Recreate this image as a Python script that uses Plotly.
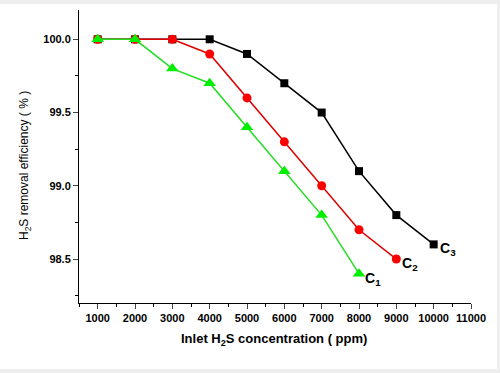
import plotly.graph_objects as go

conc_c3 = [1000, 2000, 3000, 4000, 5000, 6000, 7000, 8000, 9000, 10000]
eff_c3 = [100.0, 100.0, 100.0, 100.0, 99.9, 99.7, 99.5, 99.1, 98.8, 98.6]
conc_c2 = [1000, 2000, 3000, 4000, 5000, 6000, 7000, 8000, 9000]
eff_c2 = [100.0, 100.0, 100.0, 99.9, 99.6, 99.3, 99.0, 98.7, 98.5]
conc_c1 = [1000, 2000, 3000, 4000, 5000, 6000, 7000, 8000]
eff_c1 = [100.0, 100.0, 99.8, 99.7, 99.4, 99.1, 98.8, 98.4]

x_ticks = [1000, 2000, 3000, 4000, 5000, 6000, 7000, 8000, 9000, 10000, 11000]
x_tick_text = [str(v) for v in x_ticks]
y_ticks = [98.5, 99.0, 99.5, 100.0]
y_tick_text = ["98.5", "99.0", "99.5", "100.0"]

FONT = "Liberation Sans, Arial, sans-serif"

fig = go.Figure()
fig.add_trace(go.Scatter(x=conc_c3, y=eff_c3, mode="lines+markers",
                         line=dict(color="black", width=1.5),
                         marker=dict(symbol="square", size=8, color="black"), name="C3"))
fig.add_trace(go.Scatter(x=conc_c2, y=eff_c2, mode="lines+markers",
                         line=dict(color="#e00000", width=1.5),
                         marker=dict(symbol="circle", size=9, color="#ff0000"), name="C2"))
fig.add_trace(go.Scatter(x=conc_c1, y=eff_c1, mode="lines+markers",
                         line=dict(color="#22dd22", width=1.5),
                         marker=dict(symbol="triangle-up", size=11, color="#00ee00"), name="C1"))

labels = [("C<sub>3</sub>", conc_c3[-1], eff_c3[-1]),
          ("C<sub>2</sub>", conc_c2[-1], eff_c2[-1]),
          ("C<sub>1</sub>", conc_c1[-1], eff_c1[-1])]
for txt, xx, yy in labels:
    fig.add_annotation(x=xx, y=yy, text="<b>" + txt + "</b>", showarrow=False,
                       xanchor="left", yanchor="middle", xshift=4, yshift=-5,
                       font=dict(family=FONT, size=14, color="black"))

W, H = 500, 373
ml, mr, mt, mb = 79, 29, 10, 70
pw, ph = W - ml - mr, H - mt - mb
bottom_px = H - mb


def px_to_paper(px, py):
    return (px - ml) / pw, (bottom_px - py) / ph


x0p, y1p = px_to_paper(0, 4)
x1p, y0p = px_to_paper(497, 369)
fig.add_shape(type="rect", xref="paper", yref="paper", layer="below",
              x0=x0p, x1=x1p, y0=y0p, y1=y1p,
              fillcolor="white", line=dict(width=0))

tx, ty = px_to_paper(274, 339)
fig.add_annotation(xref="paper", yref="paper", x=tx, y=ty, showarrow=False,
                   xanchor="center", yanchor="middle",
                   text="<b>Inlet H<sub>2</sub>S concentration ( ppm)</b>",
                   font=dict(family=FONT, size=13, color="black"))
tx, ty = px_to_paper(25, 166)
fig.add_annotation(xref="paper", yref="paper", x=tx, y=ty, showarrow=False,
                   xanchor="center", yanchor="middle", textangle=-90,
                   text="H<sub>2</sub>S removal efficiency ( % )",
                   font=dict(family=FONT, size=12, color="black"))

fig.update_layout(
    width=W, height=H,
    margin=dict(l=ml, r=mr, t=mt, b=mb, autoexpand=False),
    paper_bgcolor="#eeeeee", plot_bgcolor="white",
    showlegend=False,
    font=dict(family=FONT, color="black"),
    xaxis=dict(range=[500, 11000], tickvals=x_ticks, ticktext=x_tick_text,
               ticks="outside", ticklen=5, automargin=False,
               tickwidth=1, showline=True, linecolor="black", linewidth=1,
               showgrid=False, zeroline=False,
               tickfont=dict(family=FONT, size=11, color="black", weight="bold"),
               minor=dict(tickvals=[500 + 1000 * i for i in range(11)], ticks="outside",
                          ticklen=3, tickcolor="black")),
    yaxis=dict(range=[98.2, 100.2], tickvals=y_ticks, ticktext=y_tick_text,
               ticks="outside", ticklen=5, tickwidth=1, automargin=False,
               showline=True, linecolor="black", linewidth=1,
               showgrid=False, zeroline=False,
               tickfont=dict(family=FONT, size=11, color="black", weight="bold"),
               minor=dict(tickvals=[98.25, 98.75, 99.25, 99.75], ticks="outside",
                          ticklen=3, tickcolor="black")),
)

fig.write_html("out.html", config={"displayModeBar": False},
               post_script="document.body.style.margin='0';document.body.style.overflow='hidden';")
